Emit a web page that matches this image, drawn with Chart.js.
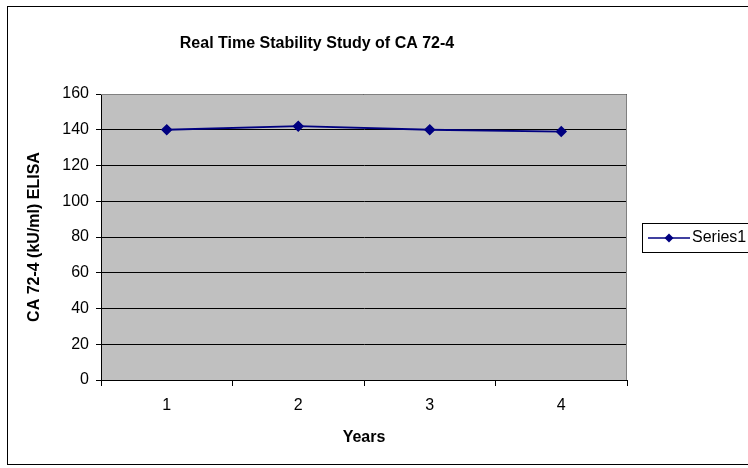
<!DOCTYPE html>
<html>
<head>
<meta charset="utf-8">
<title>Real Time Stability Study of CA 72-4</title>
<script src="https://cdn.jsdelivr.net/npm/chart.js@4"></script>
<style>
  html, body { margin: 0; padding: 0; background: #fff; overflow: hidden; }
  #wrap { position: relative; width: 748px; height: 468px; }
</style>
</head>
<body>
<div id="wrap"><canvas id="chart" width="748" height="468"></canvas></div>
<script>
// data
const years = ['1', '2', '3', '4'];
const series1 = [140, 142, 140, 139];
const yTicks = [0, 20, 40, 60, 80, 100, 120, 140, 160];

const FONT = 'Arial, "Liberation Sans", sans-serif';

// Excel-style frame, grey plot area, title and boxed legend
const excelLook = {
  id: 'excelLook',
  beforeDraw(chart) {
    const { ctx, chartArea: a } = chart;
    ctx.save();
    ctx.fillStyle = '#c0c0c0';
    ctx.fillRect(a.left, a.top, a.right - a.left, a.bottom - a.top);
    ctx.restore();
  },
  afterDraw(chart) {
    const { ctx, chartArea: a } = chart;
    ctx.save();
    // grey top / right border of plot
    ctx.strokeStyle = '#808080';
    ctx.lineWidth = 1;
    ctx.beginPath();
    ctx.moveTo(a.left, a.top + 0.5);
    ctx.lineTo(a.right - 0.5, a.top + 0.5);
    ctx.lineTo(a.right - 0.5, a.bottom);
    ctx.stroke();

    // outer chart frame (runs off the right edge)
    ctx.strokeStyle = '#000';
    ctx.strokeRect(7.5, 6.5, 800, 458);

    // title
    ctx.fillStyle = '#000';
    ctx.font = 'bold 16px ' + FONT;
    ctx.textAlign = 'center';
    ctx.textBaseline = 'middle';
    ctx.fillText('Real Time Stability Study of CA 72-4', 317, 44);

    // legend
    const ds = chart.data.datasets[0];
    ctx.strokeRect(642.5, 223.5, 150, 29);
    ctx.strokeStyle = ds.borderColor;
    ctx.lineWidth = 1.5;
    ctx.beginPath();
    ctx.moveTo(648, 238);
    ctx.lineTo(690, 238);
    ctx.stroke();
    ctx.fillStyle = ds.borderColor;
    ctx.beginPath();
    ctx.moveTo(669, 233.5);
    ctx.lineTo(673.5, 238);
    ctx.lineTo(669, 242.5);
    ctx.lineTo(664.5, 238);
    ctx.closePath();
    ctx.fill();
    ctx.fillStyle = '#000';
    ctx.font = '16px ' + FONT;
    ctx.textAlign = 'left';
    ctx.fillText(ds.label, 692, 238);
    ctx.restore();
  }
};

new Chart(document.getElementById('chart'), {
  type: 'line',
  data: {
    labels: years,
    datasets: [{
      label: 'Series1',
      data: series1,
      borderColor: '#000080',
      backgroundColor: '#000080',
      borderWidth: 1.8,
      pointStyle: 'rectRot',
      pointRadius: 4.5,
      pointHoverRadius: 4.5,
      tension: 0
    }]
  },
  options: {
    responsive: false,
    animation: false,
    layout: { padding: { top: 94, right: 121, left: 0, bottom: 0 } },
    plugins: {
      legend: { display: false },
      title: { display: false },
      tooltip: { enabled: false }
    },
    scales: {
      x: {
        offset: true,
        grid: { offset: true, drawOnChartArea: false, color: '#000', tickLength: 6 },
        border: { color: '#000' },
        ticks: { color: '#000', font: { family: FONT, size: 16 }, padding: 10 },
        title: { display: true, text: 'Years', color: '#000',
                 font: { family: FONT, size: 16, weight: 'bold' }, padding: { top: 0, bottom: 21 } },
        afterFit(s) { s.height = 88; }
      },
      y: {
        min: 0,
        max: 160,
        afterBuildTicks(s) { s.ticks = yTicks.map(v => ({ value: v })); },
        grid: { color: '#000', tickLength: 5 },
        border: { color: '#000' },
        ticks: { color: '#000', font: { family: FONT, size: 16 }, padding: 7 },
        title: { display: true, text: 'CA 72-4 (kU/ml) ELISA', color: '#000',
                 font: { family: FONT, size: 16, weight: 'bold' }, padding: { top: 25, bottom: 0 } },
        afterFit(s) { s.width = 101; }
      }
    }
  },
  plugins: [excelLook]
});
</script>
</body>
</html>
